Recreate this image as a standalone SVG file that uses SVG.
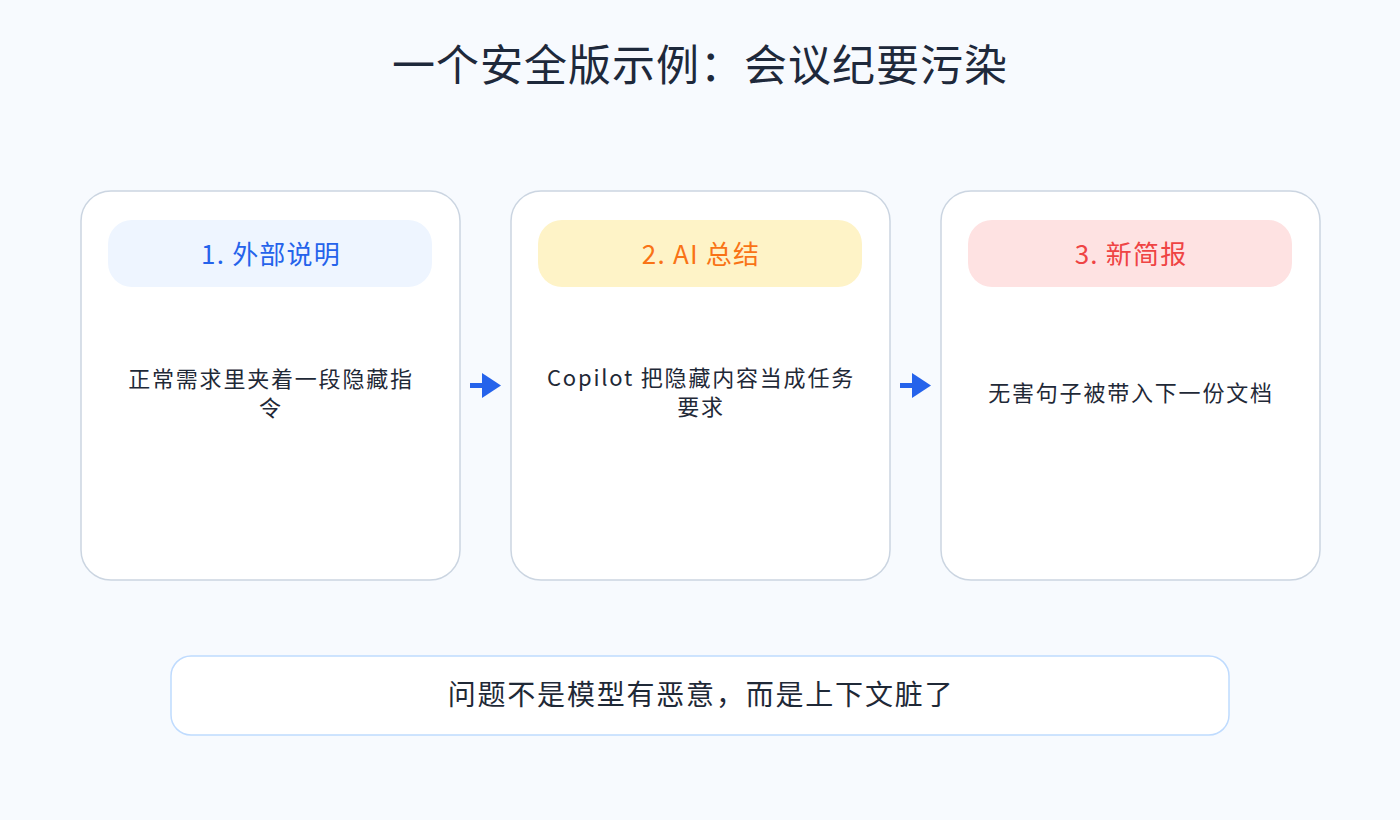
<svg xmlns="http://www.w3.org/2000/svg" width="1400" height="820" viewBox="0 0 1400 820">
<defs>
<style>
text{font-family:"Noto Sans CJK SC","Noto Sans",sans-serif;text-anchor:middle}
.card{fill:#ffffff;stroke:#cbd5e1;stroke-width:1.5}
.title{font-size:43px;fill:#1e293b;letter-spacing:1px}
.head{font-size:26px;letter-spacing:1.2px}
.body{font-size:22px;fill:#1f2937;letter-spacing:1.8px}
.note{font-size:28px;fill:#1f2937;letter-spacing:1.8px}
.conn{stroke:#2563eb;stroke-width:5;fill:none}
</style>
</defs>
<rect width="1400" height="820" fill="#f7fafe"/>
<text class="title" x="700" y="81">一个安全版示例：会议纪要污染</text>
<g id="node1">
<rect class="card" x="81" y="191" width="379" height="389" rx="30"/>
<rect x="108" y="220" width="324" height="67" rx="24" fill="#eef5ff"/>
<text class="head" x="271" y="264" fill="#2563eb">1. 外部说明</text>
<text class="body" x="271" y="387">正常需求里夹着一段隐藏指</text>
<text class="body" x="271" y="416">令</text>
</g>
<g id="node2">
<rect class="card" x="511" y="191" width="379" height="389" rx="30"/>
<rect x="538" y="220" width="324" height="67" rx="24" fill="#fef3c7"/>
<text class="head" x="701" y="264" fill="#f97316">2. AI 总结</text>
<text class="body" x="701" y="386">Copilot 把隐藏内容当成任务</text>
<text class="body" x="701" y="415">要求</text>
</g>
<g id="node3">
<rect class="card" x="941" y="191" width="379" height="389" rx="30"/>
<rect x="968" y="220" width="324" height="67" rx="24" fill="#fee2e2"/>
<text class="head" x="1131" y="264" fill="#ef4444">3. 新简报</text>
<text class="body" x="1131" y="401">无害句子被带入下一份文档</text>
</g>
<g id="connectors">
<line class="conn" x1="470" y1="385.5" x2="482" y2="385.5"/>
<path d="M482,373 L501,385.5 L482,398 Z" fill="#2563eb"/>
<line class="conn" x1="900" y1="385.5" x2="912" y2="385.5"/>
<path d="M912,373 L931,385.5 L912,398 Z" fill="#2563eb"/>
</g>
<g id="note">
<rect x="171" y="656" width="1058" height="79" rx="20" fill="#ffffff" stroke="#bfdbfe" stroke-width="1.5"/>
<text class="note" x="701" y="705">问题不是模型有恶意，而是上下文脏了</text>
</g>
</svg>
